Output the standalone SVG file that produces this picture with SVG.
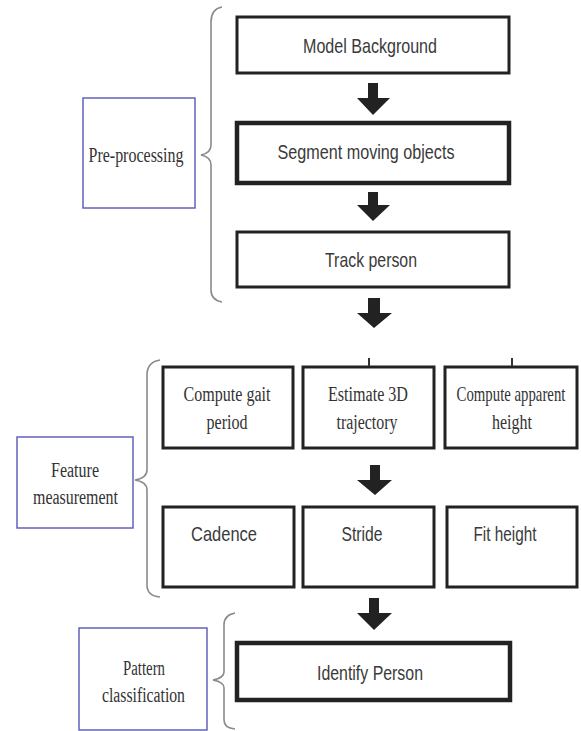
<svg xmlns="http://www.w3.org/2000/svg" width="581" height="731" viewBox="0 0 581 731">
<style>
.box{fill:#fff;stroke:#222;stroke-width:3}
.thick{stroke-width:4.5}
.lbl{fill:none;stroke:#6262bb;stroke-width:1.5}
.brace{fill:none;stroke:#8a8a8a;stroke-width:1.6}
.sans{font-family:"Liberation Sans",Arial,sans-serif;font-size:21px;fill:#3a3a3a;text-anchor:middle}
.serif{font-family:"Liberation Serif","Times New Roman",serif;font-size:20px;fill:#333;text-anchor:middle}
.arr{fill:#222}
</style>
<rect width="581" height="731" fill="#fff"/>
<g id="preprocessing-label">
<rect class="lbl" x="83" y="98" width="112" height="110"/>
<text class="serif" x="136" y="162" textLength="95" lengthAdjust="spacingAndGlyphs">Pre-processing</text>
</g>
<g id="feature-label">
<rect class="lbl" x="17" y="437" width="116" height="91"/>
<text class="serif" x="75" y="477" textLength="48" lengthAdjust="spacingAndGlyphs">Feature</text>
<text class="serif" x="75.5" y="504" textLength="85" lengthAdjust="spacingAndGlyphs">measurement</text>
</g>
<g id="pattern-label">
<rect class="lbl" x="79" y="628" width="128" height="102"/>
<text class="serif" x="144" y="675" textLength="42" lengthAdjust="spacingAndGlyphs">Pattern</text>
<text class="serif" x="143.5" y="702" textLength="83" lengthAdjust="spacingAndGlyphs">classification</text>
</g>
<g id="braces">
<path class="brace" d="M222,7 Q211,9 211,22 L211,145 Q211,153 201,155 Q211,157 211,165 L211,290 Q211,300 222,302"/>
<path class="brace" d="M160,360 Q147,362 147,375 L147,470 Q147,478 135,480 Q147,482 147,490 L147,585 Q147,596 160,597"/>
<path class="brace" d="M235,613 Q224,615 224,625 L224,672 Q224,678 213,680 Q224,682 224,688 L224,720 Q224,728 235,729"/>
</g>
<g id="model-background">
<rect class="box" x="237" y="17" width="272" height="56"/>
<text class="sans" x="370" y="53" textLength="134" lengthAdjust="spacingAndGlyphs">Model Background</text>
</g>
<g id="segment-moving-objects">
<rect class="box thick" x="237" y="123" width="272" height="60"/>
<text class="sans" x="366" y="159" textLength="177" lengthAdjust="spacingAndGlyphs">Segment moving objects</text>
</g>
<g id="track-person">
<rect class="box" x="237" y="232" width="272" height="55"/>
<text class="sans" x="371" y="267" textLength="92" lengthAdjust="spacingAndGlyphs">Track person</text>
</g>
<g id="compute-gait-period">
<rect class="box" x="163" y="367" width="130" height="81"/>
<text class="serif" x="227" y="401" textLength="87" lengthAdjust="spacingAndGlyphs">Compute gait</text>
<text class="serif" x="227" y="429" textLength="41" lengthAdjust="spacingAndGlyphs">period</text>
</g>
<g id="estimate-3d-trajectory">
<rect class="box" x="303" y="367" width="131" height="81"/>
<text class="serif" x="368" y="401" textLength="80" lengthAdjust="spacingAndGlyphs">Estimate 3D</text>
<text class="serif" x="367" y="429" textLength="61" lengthAdjust="spacingAndGlyphs">trajectory</text>
</g>
<g id="compute-apparent-height">
<rect class="box" x="445" y="367" width="132" height="81"/>
<text class="serif" transform="translate(511,401) scale(0.74,1)">Compute apparent</text>
<text class="serif" x="512" y="429" textLength="40" lengthAdjust="spacingAndGlyphs">height</text>
</g>
<g id="cadence">
<rect class="box" x="163" y="507" width="131" height="80"/>
<text class="sans" x="224" y="541" textLength="66" lengthAdjust="spacingAndGlyphs">Cadence</text>
</g>
<g id="stride">
<rect class="box" x="303" y="507" width="131" height="80"/>
<text class="sans" x="362" y="541" textLength="41" lengthAdjust="spacingAndGlyphs">Stride</text>
</g>
<g id="fit-height">
<rect class="box" x="447" y="507" width="130" height="80"/>
<text class="sans" x="505" y="541" textLength="63" lengthAdjust="spacingAndGlyphs">Fit height</text>
</g>
<g id="identify-person">
<rect class="box thick" x="237" y="643" width="273" height="57"/>
<text class="sans" x="370" y="680" textLength="106" lengthAdjust="spacingAndGlyphs">Identify Person</text>
</g>
<g id="connectors">
<path class="arr" d="M368,83 H378 V98 H390 L373,115 L357,98 H368 Z"/>
<path class="arr" d="M368,192 H378 V205 H390 L373,221 L357,205 H368 Z"/>
<path class="arr" d="M368,298 H380 V313 H392 L374,328 L357,313 H368 Z"/>
<path class="arr" d="M370,465 H380 V480 H392 L375,495 L357,480 H370 Z"/>
<path class="arr" d="M369,598 H379 V613 H392 L374,630 L357,613 H369 Z"/>
<path d="M369,358 V366" stroke="#333" stroke-width="2"/>
<path d="M512,358 V366" stroke="#333" stroke-width="2"/>
</g>
</svg>
